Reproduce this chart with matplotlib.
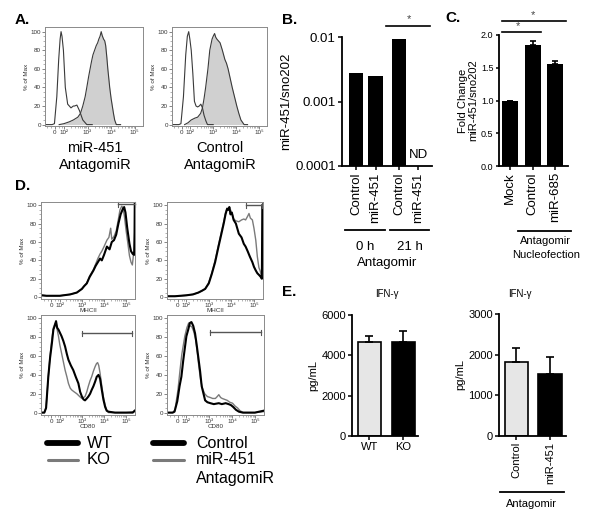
import matplotlib
matplotlib.use("Agg")
import matplotlib.pyplot as plt
import numpy as np
from matplotlib.lines import Line2D
from matplotlib.ticker import NullLocator, FixedLocator

plt.rcParams['font.family'] = ['Liberation Sans', 'DejaVu Sans']

W, H = 600, 521

# ---------------- data ----------------
# A: flow histograms (x in decades of fluorescence, y in % of max)
A1_open_x = [1.2, 1.5, 1.6, 1.7, 1.78, 1.84, 1.88, 1.92, 1.98, 2.06, 2.16, 2.3, 2.4, 2.45, 2.55, 2.66, 2.8, 2.97, 3.2]
A1_open_y = [0, 0, 1, 30, 70, 92, 100, 95, 80, 40, 22, 18, 20, 20, 21, 15, 5, 0, 0]
A1_fill_x = [1.8, 2.0, 2.23, 2.4, 2.59, 2.7, 2.8, 2.9, 2.97, 3.05, 3.11, 3.17, 3.23, 3.3, 3.37, 3.43, 3.48,
             3.53, 3.58, 3.62, 3.68, 3.73, 3.77, 3.82, 3.86, 3.9, 3.94, 4.0, 4.05, 4.1, 4.15, 4.22, 4.4]
A1_fill_y = [0, 1, 3, 5, 8, 12, 20, 30, 40, 52, 60, 68, 75, 80, 85, 88, 92,
             95, 100, 96, 92, 90, 85, 72, 60, 50, 40, 28, 20, 12, 5, 0, 0]
A2_open_x = [1.2, 1.5, 1.59, 1.7, 1.8, 1.87, 1.93, 1.98, 2.04, 2.11, 2.18, 2.25, 2.32, 2.39, 2.46, 2.53, 2.6, 2.68, 2.75, 3.0]
A2_open_y = [0, 0, 1, 30, 75, 95, 100, 92, 80, 55, 25, 20, 19, 20, 22, 18, 10, 4, 0, 0]
A2_fill_x = [1.75, 1.9, 2.04, 2.2, 2.32, 2.45, 2.53, 2.6, 2.67, 2.72, 2.77, 2.81, 2.85, 2.9, 2.95, 3.0, 3.06,
             3.11, 3.16, 3.23, 3.3, 3.4, 3.51, 3.58, 3.65, 3.74, 3.83, 3.93, 4.03, 4.12, 4.21, 4.35, 4.5]
A2_fill_y = [0, 2, 5, 7, 8, 12, 18, 28, 40, 50, 60, 70, 80, 86, 92, 95, 98,
             94, 92, 90, 88, 80, 70, 66, 60, 50, 40, 30, 20, 12, 5, 0, 0]
A_labels = ["miR-451", "Control"]

# D: MHCII (top) and CD80 (bottom) histograms
D1_wt_x = [1.15, 1.4, 1.72, 2.0, 2.47, 2.77, 3.0, 3.1, 3.22, 3.35, 3.52, 3.62, 3.72, 3.82, 3.9, 4.0, 4.13,
           4.25, 4.35, 4.45, 4.55, 4.65, 4.75, 4.85, 4.91, 4.97, 5.05, 5.15, 5.22, 5.3, 5.36, 5.38, 5.39]
D1_wt_y = [2, 1.5, 1.5, 1.5, 3, 5, 9, 12, 15, 22, 29, 34, 38, 42, 40, 46, 55,
           52, 60, 62, 68, 80, 90, 96, 98, 92, 75, 58, 50, 47, 46, 70, 104]
D1_ko_x = [1.15, 1.4, 1.72, 2.0, 2.47, 2.77, 3.0, 3.1, 3.22, 3.35, 3.52, 3.62, 3.72, 3.82, 3.9, 4.0, 4.13,
           4.22, 4.3, 4.35, 4.45, 4.55, 4.65, 4.72, 4.8, 4.86, 4.92, 5.0, 5.08, 5.15, 5.22, 5.28, 5.34, 5.38]
D1_ko_y = [2.5, 1.5, 1.5, 1.5, 3, 5, 9, 12, 15, 23, 30, 36, 42, 47, 50, 55, 62,
           65, 75, 63, 66, 72, 85, 95, 99, 97, 88, 72, 58, 45, 38, 35, 48, 50]
D2_ctl_x = [1.15, 1.5, 2.0, 2.3, 2.54, 2.7, 2.84, 3.0, 3.13, 3.28, 3.43, 3.55, 3.66, 3.74, 3.81, 3.86, 3.91,
            3.96, 4.02, 4.1, 4.2, 4.33, 4.45, 4.55, 4.63, 4.72, 4.82, 4.93, 5.0, 5.08, 5.15, 5.23, 5.3, 5.35, 5.37]
D2_ctl_y = [1, 1, 2, 3, 5, 7, 9, 15, 25, 38, 55, 68, 80, 90, 96, 95, 98,
            90, 92, 84, 80, 69, 65, 58, 55, 50, 44, 38, 33, 29, 26, 24, 22, 20, 100]
D2_mir_x = [1.15, 1.5, 2.0, 2.3, 2.54, 2.7, 2.84, 3.0, 3.13, 3.28, 3.43, 3.55, 3.66, 3.74, 3.81, 3.86, 3.91,
            3.96, 4.02, 4.1, 4.2, 4.33, 4.45, 4.55, 4.63, 4.72, 4.78, 4.84, 4.93, 5.0, 5.08, 5.15, 5.22, 5.27, 5.32, 5.36]
D2_mir_y = [1, 1, 2, 3, 5, 7, 9, 16, 26, 40, 57, 70, 82, 92, 97, 96, 98,
            95, 92, 85, 83, 82, 84, 85, 84, 88, 91, 86, 84, 75, 62, 44, 32, 29, 24, 22]
D3_wt_x = [1.15, 1.3, 1.38, 1.48, 1.56, 1.64, 1.71, 1.77, 1.83, 1.88, 1.94, 2.0, 2.08, 2.16, 2.24, 2.32, 2.39,
           2.5, 2.61, 2.72, 2.84, 2.92, 3.0, 3.07, 3.14, 3.22, 3.29, 3.37, 3.44, 3.52, 3.6, 3.67, 3.75, 3.82,
           3.9, 3.97, 4.05, 4.12, 4.2, 4.5, 5.0, 5.3, 5.38]
D3_wt_y = [0, 0, 5, 38, 58, 73, 88, 92, 97, 90, 88, 85, 81, 76, 70, 62, 56,
           50, 45, 38, 31, 22, 17, 14, 13, 15, 17, 20, 24, 28, 33, 38, 40, 36,
           24, 14, 6, 2, 1, 0, 0, 0, 2]
D3_ko_x = [1.15, 1.3, 1.38, 1.48, 1.56, 1.64, 1.71, 1.77, 1.83, 1.88, 1.94, 2.0, 2.08, 2.16, 2.24, 2.32, 2.39,
           2.47, 2.54, 2.65, 2.77, 2.9, 3.0, 3.07, 3.14, 3.22, 3.29, 3.37, 3.44, 3.52, 3.6, 3.66, 3.71, 3.76,
           3.82, 3.9, 3.97, 4.05, 4.12, 4.2, 4.5, 5.0, 5.38]
D3_ko_y = [0, 0, 5, 38, 60, 78, 90, 94, 96, 88, 81, 72, 63, 54, 45, 38, 31,
           26, 24, 22, 20, 17, 15, 16, 17, 22, 28, 34, 38, 44, 49, 52, 53, 50,
           42, 28, 17, 8, 3, 0, 0, 0, 1]
D4_ctl_x = [1.15, 1.4, 1.48, 1.6, 1.7, 1.78, 1.86, 1.94, 2.0, 2.08, 2.15, 2.22, 2.3, 2.38, 2.45, 2.52, 2.6,
            2.67, 2.75, 2.82, 2.92, 3.05, 3.2, 3.42, 3.55, 3.72, 3.85, 3.95, 4.05, 4.17, 4.3, 4.47, 5.0, 5.38]
D4_ctl_y = [0, 0, 1, 12, 28, 38, 55, 70, 81, 88, 95, 96, 92, 84, 72, 59, 44,
            28, 20, 13, 11, 10, 9, 10, 9, 10, 9, 8, 6, 3, 1, 0, 0, 2]
D4_mir_x = [1.15, 1.4, 1.5, 1.63, 1.72, 1.8, 1.93, 2.02, 2.1, 2.16, 2.24, 2.32, 2.4, 2.48, 2.55, 2.62, 2.7,
            2.8, 2.92, 3.05, 3.15, 3.27, 3.35, 3.42, 3.5, 3.57, 3.68, 3.79, 3.9, 4.02, 4.13, 4.24, 4.35, 4.5, 5.0, 5.38]
D4_mir_y = [0, 0, 3, 24, 45, 62, 81, 90, 95, 92, 91, 86, 78, 63, 48, 35, 26,
            20, 17, 16, 15, 15, 17, 19, 16, 15, 14, 13, 11, 10, 7, 5, 2, 0, 0, 1]
D_gates = [(4.64, 5.38, 101), (4.63, 5.37, 100), (3.0, 5.25, 84), (3.05, 5.26, 85)]
D_xlabels = ["MHCII", "MHCII", "CD80", "CD80"]

hist_ticks = [1.62, 2, 3, 4, 5]
hist_ticklabels = ["0", "10²", "10³", "10⁴", "10⁵"]

# B: qPCR (log)
B_categories = ["Control", "miR-451", "Control", "miR-451"]
B_values = [0.00277, 0.00249, 0.0093, np.nan]
B_groups = ["0 h", "21 h"]

# C: fold change
C_categories = ["Mock", "Control", "miR-685"]
C_values = [1.0, 1.85, 1.55]
C_err = [0.0, 0.06, 0.06]

# E: IFN-gamma ELISA
E1_categories = ["WT", "KO"]
E1_values = [4680, 4650]
E1_err = [280, 550]
E2_categories = ["Control", "miR-451"]
E2_values = [1820, 1525]
E2_err = [340, 415]

# ---------------- figure ----------------
fig = plt.figure(figsize=(W / 100, H / 100), dpi=100)


def px_axes(x0, y0, x1, y1):
    return fig.add_axes([x0 / W, 1 - y1 / H, (x1 - x0) / W, (y1 - y0) / H])


def ftext(x, y, s, **kw):
    return fig.text(x / W, 1 - y / H, s, **kw)


GRAY_AX = '#8a8a8a'


def style_hist(ax, xlim, ylim, xlabel=None):
    ax.set_xlim(*xlim)
    ax.set_ylim(*ylim)
    for sp in ax.spines.values():
        sp.set_color(GRAY_AX)
        sp.set_linewidth(0.7)
    ax.set_xticks(hist_ticks)
    ax.set_xticklabels(hist_ticklabels)
    minors = [np.log10(k) + d for d in (2, 3, 4) for k in range(2, 10)]
    minors += [1.3, 1.45, 1.8, 1.9]
    minors = [m for m in minors if xlim[0] < m < xlim[1]]
    ax.xaxis.set_minor_locator(FixedLocator(minors))
    ax.set_yticks([0, 20, 40, 60, 80, 100])
    ax.yaxis.set_minor_locator(FixedLocator(list(range(5, 105, 5))))
    ax.tick_params(which='major', direction='out', length=2, width=0.5, colors='#555555',
                   labelsize=4.5, pad=1, labelcolor='#333333')
    ax.tick_params(which='minor', direction='out', length=1.2, width=0.4, colors='#777777')
    ax.set_ylabel('% of Max', fontsize=4.5, labelpad=1, color='#333333')
    if xlabel:
        ax.set_xlabel(xlabel, fontsize=4.5, labelpad=0, color='#333333')


# ----- Panel A -----
for (x0, x1), ox, oy, fx, fy in [((45, 143), A1_open_x, A1_open_y, A1_fill_x, A1_fill_y),
                                 ((172, 267), A2_open_x, A2_open_y, A2_fill_x, A2_fill_y)]:
    ax = px_axes(x0, 27, x1, 126)
    ax.fill_between(fx, fy, 0, color='#d0d0d0', lw=0)
    ax.plot(fx, fy, color='#3a3a3a', lw=0.8)
    ax.plot(ox, oy, color='#3a3a3a', lw=0.8)
    style_hist(ax, (1.2, 5.35), (-1.5, 105))

ftext(95, 148, A_labels[0], fontsize=10.5, ha='center', va='center')
ftext(95, 165, "AntagomiR", fontsize=10.5, ha='center', va='center')
ftext(220, 148, A_labels[1], fontsize=10.5, ha='center', va='center')
ftext(220, 165, "AntagomiR", fontsize=10.5, ha='center', va='center')

# ----- Panel D -----
D_boxes = [(41, 202, 135, 299), (167, 202, 263, 299), (41, 315, 135, 414.5), (167, 315, 264, 414.5)]
D_curves = [(D1_wt_x, D1_wt_y, D1_ko_x, D1_ko_y), (D2_ctl_x, D2_ctl_y, D2_mir_x, D2_mir_y),
            (D3_wt_x, D3_wt_y, D3_ko_x, D3_ko_y), (D4_ctl_x, D4_ctl_y, D4_mir_x, D4_mir_y)]
for box, (bx, by, gx, gy), gate, xl in zip(D_boxes, D_curves, D_gates, D_xlabels):
    ax = px_axes(*box)
    ax.plot(gx, gy, color='#7a7a7a', lw=1.0)
    ax.plot(bx, by, color='black', lw=1.5)
    g0, g1, gyv = gate
    ax.plot([g0, g1], [gyv, gyv], color='#555555', lw=1.0, clip_on=False)
    ax.plot([g0, g0], [gyv - 2.5, gyv + 2.5], color='#555555', lw=0.8, clip_on=False)
    ax.plot([g1, g1], [gyv - 2.5, gyv + 2.5], color='#555555', lw=0.8, clip_on=False)
    style_hist(ax, (1.15, 5.4), (-2, 103.5), xl)

# legends for D
fig.add_artist(Line2D([47 / W, 78 / W], [1 - 443 / H, 1 - 443 / H], color='black', lw=4.2,
                      solid_capstyle='round'))
fig.add_artist(Line2D([48 / W, 78 / W], [1 - 460 / H, 1 - 460 / H], color='#7a7a7a', lw=2.2,
                      solid_capstyle='round'))
ftext(87, 443, "WT", fontsize=12, va='center')
ftext(87, 460, "KO", fontsize=12, va='center')
fig.add_artist(Line2D([153 / W, 184 / W], [1 - 443 / H, 1 - 443 / H], color='black', lw=4.2,
                      solid_capstyle='round'))
fig.add_artist(Line2D([153 / W, 184 / W], [1 - 460 / H, 1 - 460 / H], color='#7a7a7a', lw=2.2,
                      solid_capstyle='round'))
ftext(196, 443, "Control", fontsize=11.5, va='center')
ftext(196, 460, "miR-451", fontsize=11.5, va='center')
ftext(196, 479, "AntagomiR", fontsize=11.5, va='center')


def style_bar_axes(ax):
    for s in ('top', 'right'):
        ax.spines[s].set_visible(False)
    for s in ('left', 'bottom'):
        ax.spines[s].set_linewidth(1.3)
    ax.tick_params(direction='out', length=3, width=1.1, pad=1.5)


# ----- Panel B -----
B_pos = [0, 1, 2.2, 3.2]
axB = px_axes(342, 37, 432, 166)
axB.set_yscale('log')
B_heights = [v - 1e-4 for v in B_values]
axB.bar(B_pos, B_heights, bottom=1e-4, width=0.75, color='black')
axB.set_ylim(1e-4, 1e-2)
axB.set_xlim(-0.72, 3.9)
axB.set_yticks([1e-4, 1e-3, 1e-2])
axB.set_yticklabels(['0.0001', '0.001', '0.01'])
axB.yaxis.set_minor_locator(NullLocator())
axB.set_xticks(B_pos)
axB.set_xticklabels(B_categories, rotation=90)
style_bar_axes(axB)
axB.tick_params(axis='y', labelsize=9.5)
axB.tick_params(axis='x', labelsize=9.5)
axB.set_ylabel('miR-451/sno202', fontsize=9.5, labelpad=2)
tB = axB.get_xaxis_transform()
axB.text(B_pos[3], 0.085, 'ND', transform=tB, ha='center', va='center', fontsize=9.5)
axB.plot([-0.56, 1.49], [-0.496, -0.496], transform=tB, color='black', lw=1.3, clip_on=False)
axB.plot([1.74, 3.74], [-0.496, -0.496], transform=tB, color='black', lw=1.3, clip_on=False)
axB.text(0.46, -0.628, B_groups[0], transform=tB, ha='center', va='center', fontsize=9.5)
axB.text(2.77, -0.628, B_groups[1], transform=tB, ha='center', va='center', fontsize=9.5)
axB.text(1.6, -0.752, 'Antagomir', transform=tB, ha='center', va='center', fontsize=9.5)
axB.plot([1.54, 3.8], [1.085, 1.085], transform=tB, color='black', lw=1.2, clip_on=False)
axB.text(2.72, 1.1, '*', transform=tB, ha='center', va='bottom', fontsize=8, color='#444444')

# ----- Panel C -----
C_pos = [0, 1, 2]
axC = px_axes(499, 35, 568, 166)
axC.bar(C_pos, C_values, width=0.7, color='black')
axC.errorbar(C_pos, C_values, yerr=[[0, 0, 0], C_err], fmt='none', ecolor='black',
             elinewidth=1.2, capsize=2.5, capthick=1.2)
axC.set_ylim(0, 2.0)
axC.set_xlim(-0.48, 2.56)
axC.set_yticks([0, 0.5, 1.0, 1.5, 2.0])
axC.set_yticklabels(['0.0', '0.5', '1.0', '1.5', '2.0'])
axC.set_xticks(C_pos)
axC.set_xticklabels(C_categories, rotation=90)
style_bar_axes(axC)
axC.tick_params(axis='y', labelsize=6.5, length=2.5)
axC.tick_params(axis='x', labelsize=9.5)
axC.set_ylabel('Fold Change\nmiR-451/sno202', fontsize=8, labelpad=2, linespacing=1.0)
tC = axC.get_xaxis_transform()
axC.plot([-0.35, 2.47], [1.107, 1.107], transform=tC, color='black', lw=1.2, clip_on=False)
axC.text(1.01, 1.115, '*', transform=tC, ha='center', va='bottom', fontsize=8, color='#444444')
axC.plot([-0.35, 1.37], [1.023, 1.023], transform=tC, color='black', lw=1.2, clip_on=False)
axC.text(0.35, 1.03, '*', transform=tC, ha='center', va='bottom', fontsize=8, color='#444444')
axC.plot([0.35, 2.69], [-0.496, -0.496], transform=tC, color='black', lw=1.3, clip_on=False)
axC.text(1.59, -0.573, 'Antagomir', transform=tC, ha='center', va='center', fontsize=8)
axC.text(1.59, -0.679, 'Nucleofection', transform=tC, ha='center', va='center', fontsize=8)

# ----- Panel E -----
axE1 = px_axes(352, 315, 418, 436)
axE1.bar([0, 1], E1_values, width=0.68, color=['#e6e6e6', 'black'], edgecolor='black', lw=1.2)
axE1.errorbar([0, 1], E1_values, yerr=[[0, 0], E1_err], fmt='none', ecolor='black',
              elinewidth=1.2, capsize=3, capthick=1.2)
axE1.set_ylim(0, 6000)
axE1.set_xlim(-0.51, 1.43)
axE1.set_yticks([0, 2000, 4000, 6000])
axE1.set_xticks([0, 1])
axE1.set_xticklabels(E1_categories)
style_bar_axes(axE1)
axE1.tick_params(labelsize=8)
axE1.set_ylabel('pg/mL', fontsize=8, labelpad=2)

axE2 = px_axes(499, 314, 566, 436)
axE2.bar([0, 1], E2_values, width=0.7, color=['#e6e6e6', 'black'], edgecolor='black', lw=1.2)
axE2.errorbar([0, 1], E2_values, yerr=[[0, 0], E2_err], fmt='none', ecolor='black',
              elinewidth=1.2, capsize=3, capthick=1.2)
axE2.set_ylim(0, 3000)
axE2.set_xlim(-0.52, 1.48)
axE2.set_yticks([0, 1000, 2000, 3000])
axE2.set_xticks([0, 1])
axE2.set_xticklabels(E2_categories, rotation=90)
style_bar_axes(axE2)
axE2.tick_params(labelsize=8)
axE2.set_ylabel('pg/mL', fontsize=8, labelpad=2)
tE = axE2.get_xaxis_transform()
axE2.plot([-0.49, 1.42], [-0.459, -0.459], transform=tE, color='black', lw=1.3, clip_on=False)
axE2.text(0.46, -0.557, 'Antagomir', transform=tE, ha='center', va='center', fontsize=8)

ftext(387, 294, 'IFN-γ', fontsize=7, ha='center', va='center')
ftext(520, 294, 'IFN-γ', fontsize=7, ha='center', va='center')

# panel letters
for s, x, y in [("A.", 15, 20), ("B.", 282, 20), ("C.", 445, 18), ("D.", 15, 186), ("E.", 282, 292)]:
    ftext(x, y, s, fontsize=11, fontweight='bold', va='center', ha='left')

fig.savefig('out.png', dpi=100)
